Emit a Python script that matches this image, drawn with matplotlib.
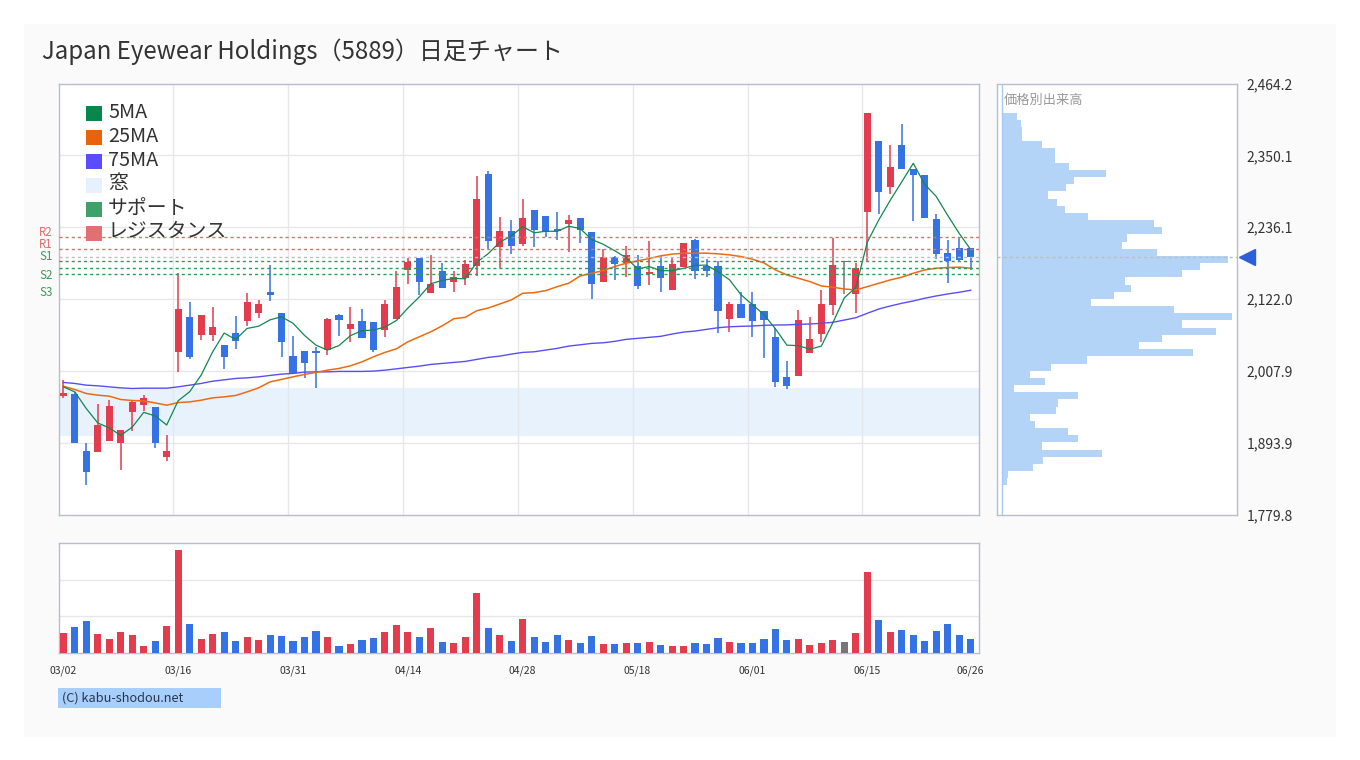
import matplotlib
matplotlib.use('Agg')
import matplotlib.pyplot as plt
from matplotlib.patches import Rectangle
import numpy as np
import pandas as pd

plt.rcParams['font.family'] = ['Noto Sans CJK JP', 'DejaVu Sans']

# trading days (JP holidays removed)
dates = pd.bdate_range('2026-03-02', '2026-06-26', freq='C',
                       holidays=['2026-03-20', '2026-04-29', '2026-05-04', '2026-05-05', '2026-05-06'])
date_labels = list(dates.strftime('%m/%d'))

opens = [1968.1, 1970.8, 1880.1, 1879.0, 1896.5, 1893.3, 1942.2, 1953.8, 1950.2, 1870.6,
         2038.2, 2093.4, 2064.7, 2064.7, 2048.8, 2067.9, 2087.0, 2099.8, 2133.2, 2099.8,
         2031.3, 2039.3, 2039.3, 2041.4, 2096.6, 2074.8, 2087.0, 2085.4, 2073.2, 2090.7,
         2168.7, 2187.3, 2132.1, 2166.6, 2149.6, 2155.9, 2175.0, 2321.0, 2205.3, 2230.3,
         2210.1, 2263.7, 2254.1, 2233.4, 2241.4, 2251.0, 2228.7, 2149.6, 2188.9, 2179.3,
         2174.6, 2161.3, 2174.6, 2136.8, 2173.0, 2215.9, 2174.6, 2174.6, 2090.7, 2114.1,
         2114.1, 2102.9, 2062.0, 1998.4, 2000.0, 2036.6, 2066.8, 2113.0, 2181.4, 2130.5,
         2259.4, 2373.5, 2299.2, 2367.1, 2328.9, 2319.4, 2249.4, 2195.3, 2203.2, 2203.2]
highs = [1993.1, 1974.5, 1893.3, 1954.9, 1961.3, 1913.6, 1961.3, 1969.3, 1950.2, 1905.6,
         2162.9, 2117.3, 2096.6, 2109.3, 2048.8, 2095.0, 2131.6, 2120.4, 2176.2, 2099.8,
         2063.2, 2039.3, 2045.2, 2091.8, 2098.2, 2109.3, 2106.1, 2085.4, 2120.4, 2166.6,
         2187.3, 2187.3, 2192.1, 2179.3, 2166.6, 2184.1, 2317.8, 2325.8, 2252.5, 2247.8,
         2281.2, 2263.7, 2254.1, 2260.5, 2255.7, 2251.0, 2228.7, 2201.1, 2190.5, 2206.4,
         2192.1, 2214.3, 2190.5, 2188.9, 2211.2, 2217.5, 2185.7, 2182.5, 2117.3, 2133.2,
         2133.2, 2102.9, 2076.4, 2023.4, 2104.5, 2093.4, 2136.4, 2219.1, 2181.4, 2179.3,
         2418.1, 2373.5, 2367.1, 2400.6, 2328.9, 2319.4, 2257.3, 2215.9, 2220.7, 2203.2]
lows = [1965.0, 1893.3, 1826.0, 1879.0, 1896.5, 1849.9, 1912.0, 1943.8, 1885.4, 1864.2,
        2006.3, 2027.0, 2056.8, 2055.7, 2010.6, 2042.5, 2079.5, 2091.8, 2118.9, 2029.7,
        2003.8, 1996.8, 1980.9, 2033.4, 2063.6, 2054.1, 2060.4, 2038.2, 2062.0, 2090.7,
        2146.4, 2128.9, 2132.1, 2140.0, 2133.7, 2144.8, 2159.1, 2202.1, 2171.9, 2194.1,
        2206.9, 2205.3, 2220.2, 2216.4, 2197.3, 2211.6, 2122.5, 2149.6, 2152.8, 2157.5,
        2138.0, 2144.8, 2133.7, 2136.8, 2173.0, 2154.3, 2157.5, 2068.4, 2070.0, 2092.3,
        2062.0, 2028.6, 1982.5, 1979.3, 2000.0, 2036.6, 2054.1, 2097.1, 2130.0, 2100.2,
        2182.5, 2256.2, 2288.0, 2327.8, 2245.1, 2251.4, 2186.2, 2148.0, 2183.0, 2167.7]
closes = [1972.0, 1893.3, 1847.2, 1921.5, 1952.2, 1913.6, 1958.1, 1964.5, 1893.3, 1880.1,
          2106.1, 2029.7, 2096.6, 2077.5, 2029.7, 2055.2, 2117.3, 2114.1, 2128.4, 2053.6,
          2003.8, 2020.7, 2036.6, 2090.2, 2089.1, 2082.3, 2060.4, 2041.4, 2114.1, 2141.1,
          2180.9, 2149.6, 2145.9, 2140.0, 2157.1, 2177.7, 2281.2, 2214.8, 2230.3, 2206.9,
          2251.0, 2232.3, 2227.6, 2229.2, 2247.8, 2232.3, 2146.4, 2188.9, 2178.2, 2192.1,
          2143.2, 2165.5, 2155.9, 2177.7, 2211.2, 2167.1, 2167.1, 2103.4, 2114.1, 2092.3,
          2087.5, 2089.1, 1990.4, 1984.1, 2088.6, 2058.9, 2114.1, 2176.2, 2181.4, 2171.4,
          2418.1, 2291.2, 2332.1, 2327.8, 2318.3, 2251.4, 2194.1, 2182.5, 2184.6, 2189.4]
# volume, thousand shares
volumes = [54, 70, 87, 51, 37, 57, 48, 18, 32, 73,
           280, 78, 37, 51, 57, 32, 43, 35, 48, 46,
           32, 43, 59, 43, 18, 24, 35, 40, 57, 76,
           57, 43, 67, 29, 26, 43, 163, 67, 48, 32,
           92, 43, 29, 48, 35, 26, 46, 24, 24, 26,
           26, 29, 21, 18, 18, 26, 24, 40, 29, 26,
           26, 37, 65, 35, 37, 21, 26, 35, 29, 54,
           220, 89, 57, 62, 48, 32, 59, 78, 48, 37]

# 5MA values before enough closes exist in the window
ma5_head = [1982.5, 1974.5, 1948.0, 1925.2]
ma25 = [1983.5, 1978.3, 1971.9, 1969.3, 1967.7, 1962.4, 1960.8, 1960.2, 1957.0, 1953.3,
        1957.6, 1958.6, 1961.3, 1965.0, 1966.6, 1968.8, 1974.5, 1980.9, 1990.4, 1994.3,
        1998.4, 2002.2, 2005.4, 2009.0, 2011.7, 2015.9, 2022.2, 2030.2, 2037.2, 2042.9,
        2054.1, 2062.0, 2070.0, 2079.5, 2090.7, 2092.9, 2103.4, 2107.7, 2114.1, 2120.5,
        2131.1, 2132.1, 2135.3, 2141.6, 2147.0, 2158.6, 2162.9, 2167.1, 2173.5, 2178.8,
        2182.5, 2186.2, 2190.5, 2193.2, 2194.8, 2194.8, 2194.8, 2193.7, 2192.1, 2189.4,
        2185.2, 2179.3, 2168.2, 2160.2, 2155.0, 2149.6, 2142.7, 2140.7, 2137.9, 2136.4,
        2141.6, 2147.0, 2152.3, 2156.6, 2162.9, 2168.2, 2170.9, 2171.9, 2172.6, 2170.9]
ma75 = [1989.5, 1987.9, 1985.2, 1984.1, 1982.5, 1980.9, 1979.9, 1980.4, 1980.4, 1980.4,
        1982.5, 1985.2, 1987.9, 1991.5, 1993.6, 1995.8, 1996.8, 1998.4, 2000.6, 2002.7,
        2003.8, 2005.9, 2006.3, 2006.3, 2007.0, 2007.0, 2007.0, 2007.5, 2009.0, 2011.1,
        2013.3, 2015.4, 2018.1, 2019.7, 2021.3, 2022.9, 2026.1, 2029.3, 2031.3, 2034.5,
        2037.2, 2038.2, 2040.9, 2043.6, 2047.2, 2049.3, 2051.5, 2052.5, 2054.7, 2057.9,
        2059.5, 2061.1, 2062.7, 2066.3, 2069.5, 2071.1, 2073.8, 2076.4, 2077.9, 2078.6,
        2079.1, 2080.2, 2080.7, 2080.9, 2081.8, 2082.3, 2083.4, 2085.0, 2088.6, 2092.3,
        2099.3, 2106.1, 2110.9, 2115.2, 2118.9, 2123.2, 2126.8, 2130.0, 2132.7, 2135.9]

window_gap = (1904.5, 1980.9)
resistance = [2220.7, 2201.1]   # R2, R1
support = [2182.0, 2170.9, 2161.3]  # S1, S2, S3

# price-by-volume, top bin (high price) first
profile_top_down = [46, 58, 61, 61, 121, 160, 160, 202, 313, 217,
                    193, 139, 166, 190, 259, 457, 481, 376, 361, 466,
                    679, 595, 541, 370, 388, 337, 268, 517, 691, 541,
                    643, 481, 412, 574, 256, 148, 85, 130, 37, 229,
                    169, 163, 85, 100, 199, 229, 121, 301, 124, 94,
                    19, 16]

price_lim = (1779.8, 2464.2)

RED = '#e33c4f'
BLUE = '#3572e4'
GRAY = '#777777'
C5, C25, C75 = '#12874f', '#ee6a10', '#5b4df5'
SPINE = '#b6bdcc'
GRID = '#e6e7ea'

W, H = 1360, 760
def fx(x):
    return x / W
def fy(y):
    return 1 - y / H

fig = plt.figure(figsize=(W / 100, H / 100), dpi=100, facecolor='white')
fig.add_artist(Rectangle((fx(24), fy(737)), 1312 / W, 713 / H, transform=fig.transFigure,
                         facecolor='#fafafa', edgecolor='none', zorder=0))

ax = fig.add_axes([fx(58.5), fy(514.5), 920 / W, 431 / H])
axv = fig.add_axes([fx(58.5), fy(653), 920 / W, 110 / H])
axp = fig.add_axes([fx(996.7), fy(514.5), 240 / W, 431 / H])

o = np.array(opens); c = np.array(closes)
hi = np.array(highs); lo = np.array(lows)
x = np.arange(len(c))
cols = [RED if cc > oo else (BLUE if cc < oo else GRAY) for oo, cc in zip(o, c)]
xlim = (-0.42, len(c) - 0.32)
ticks = np.linspace(price_lim[0], price_lim[1], 7)

# --- main chart
ax.axhspan(window_gap[0], window_gap[1], color='#e8f2fd', zorder=0.5, lw=0)
ax.vlines(x, lo, hi, colors=cols, lw=1.1, zorder=2)
ax.bar(x, np.maximum(np.abs(c - o), 1.5), bottom=np.minimum(o, c), width=0.62,
       color=cols, zorder=3, linewidth=0)

ma5 = pd.Series(closes).rolling(5).mean().to_numpy()
ma5[:4] = ma5_head
ax.plot(x, ma75, color=C75, lw=1.0, zorder=4)
ax.plot(x, ma25, color=C25, lw=1.1, zorder=4)
ax.plot(x, ma5, color=C5, lw=0.9, zorder=4)

for lv in resistance:
    ax.axhline(lv, color='#e46a6a', lw=1, ls=(0, (2.2, 2.2)), zorder=5)
for lv in support:
    ax.axhline(lv, color='#2f9a57', lw=1, ls=(0, (2.2, 2.2)), zorder=5)
ax.axhline(closes[-1], color='#bdbdbd', lw=1, ls=(0, (2.2, 2.2)), zorder=5)

ax.set_xlim(xlim)
ax.set_ylim(price_lim)
ax.set_yticks(ticks[1:-1])
ax.set_xticks([i - 0.42 for i in range(10, len(c), 10)])
ax.tick_params(length=0, labelleft=False, labelbottom=False)
ax.grid(True, color=GRID, lw=1, zorder=0)
ax.set_axisbelow(True)

# S/R labels left of the chart
sr_labels = [('R2', 232, '#e46a6a'), ('R1', 244, '#e46a6a'), ('S1', 257, '#3a9a5c'),
             ('S2', 275, '#3a9a5c'), ('S3', 293, '#3a9a5c')]
for t, yy, col in sr_labels:
    fig.text(fx(53), fy(yy), t, ha='right', va='center', fontsize=8.3, color=col)

# legend
legend_items = [('5MA', '#08874c'), ('25MA', '#e8630a'), ('75MA', '#5a4cff'),
                ('窓', '#e6f1fd'), ('サポート', '#3da26a'), ('レジスタンス', '#e46f72')]
for k, (lab, col) in enumerate(legend_items):
    yc = 113.5 + 24 * k
    fig.add_artist(Rectangle((fx(86), fy(yc + 7.5)), 15.5 / W, 15 / H, transform=fig.transFigure,
                             facecolor=col, edgecolor='none', zorder=10))
    fig.text(fx(108), fy(yc - 1.5), lab, ha='left', va='center', fontsize=14.3, color='#333333', zorder=10)

# --- volume
axv.bar(x, volumes, width=0.62, color=cols, linewidth=0, zorder=3)
axv.set_xlim(xlim)
axv.set_ylim(0, 300)
axv.set_yticks([100, 200])
axv.set_xticks(list(range(0, len(c), 10)) + [len(c) - 1])
axv.set_xticklabels([date_labels[i] for i in range(0, len(c), 10)] + [date_labels[-1]])
axv.tick_params(axis='x', length=0, pad=9, labelsize=7.5, colors='#333333')
axv.tick_params(axis='y', length=0, labelleft=False)
axv.grid(True, axis='y', color=GRID, lw=1)
axv.set_axisbelow(True)

# --- price-by-volume profile
prof = np.array(profile_top_down[::-1])
edges = np.linspace(min(lows), max(highs), len(prof) + 1)
centers = (edges[:-1] + edges[1:]) / 2
axp.barh(centers, prof, height=edges[1] - edges[0], color='#b4d4f7', linewidth=0, zorder=2)
axp.axvline(0, color='#a9c8ee', lw=1, zorder=3)
axp.axhline(closes[-1], color='#bdbdbd', lw=1, ls=(0, (2.2, 2.2)), zorder=4)
axp.plot([736], [closes[-1]], marker='<', ms=12, color='#2c5fd8', clip_on=False, zorder=6)
axp.set_xlim(-15, 705)
axp.set_ylim(price_lim)
axp.set_xticks([])
axp.yaxis.tick_right()
axp.set_yticks(ticks)
axp.set_yticklabels([f'{t:,.1f}' for t in ticks])
axp.tick_params(axis='y', length=0, pad=7, labelsize=10, colors='#333333')
axp.text(0.03, 0.975, '価格別出来高', transform=axp.transAxes, ha='left', va='top',
         fontsize=9.5, color='#999999')

for a in (ax, axv, axp):
    for s in a.spines.values():
        s.set_color(SPINE)
        s.set_linewidth(1)

# title and footer
fig.text(fx(42), fy(52), 'Japan Eyewear Holdings（5889）日足チャート', ha='left', va='center',
         fontsize=17.3, color='#333333')
fig.add_artist(Rectangle((fx(58), fy(708)), 163 / W, 20 / H, transform=fig.transFigure,
                         facecolor='#a8cffb', edgecolor='none'))
fig.text(fx(62), fy(698), '(C) kabu-shodou.net', ha='left', va='center', fontsize=9.2,
         color='#27364f')

fig.savefig('out.png', dpi=100, facecolor='white')
